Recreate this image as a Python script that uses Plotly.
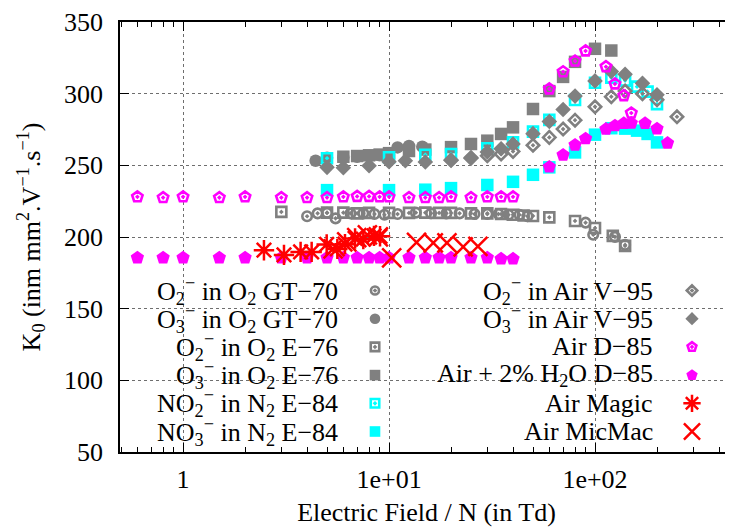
import math
import plotly.graph_objects as go

# ---------------- data ----------------
gt70_o2_x = [4.0, 4.5, 5.0, 5.5, 6.5, 7.5, 8.5, 9.5, 11, 13.5, 16, 19, 22, 26, 30, 34, 38, 43, 47, 90, 98, 125, 140]
gt70_o2_y = [214.5, 216.5, 216.8, 213.0, 216.5, 216.5, 216.0, 215.5, 216.0, 217.0, 216.5, 216.5, 216.5, 216.0, 216.0,
             216.0, 215.5, 215.5, 214.5, 210.0, 201.6, 200.1, 194.5]

gt70_o3_x = [4.4, 5.0, 6.0, 7.0, 8.0, 9.0, 11, 12.5, 14.5]
gt70_o3_y = [253.2, 255.3, 255.5, 256.0, 256.5, 257.0, 262.5, 263.5, 263.0]

e76_o2_x = [3, 5, 6, 7, 8, 10, 12.5, 15, 17.5, 20, 25, 30, 35, 40, 45, 50, 60, 80, 100, 122, 140]
e76_o2_y = [217.5, 217, 217, 216.5, 216.8, 216.8, 216.8, 217, 216.8, 216.8, 216.5, 216.5, 216, 215.5, 215, 214.7,
            213.7, 211.2, 206.3, 200.8, 193.8]

e76_o3_x = [6, 7, 8, 9, 10, 12.5, 15, 20, 25, 30, 35, 40, 50, 60, 70, 80, 100, 120]
e76_o3_y = [256, 256.5, 257, 257.5, 258.5, 260, 261, 262.7, 264.9, 267.2, 271.9, 276.5, 289.3, 301.8, 311.7, 322.2,
            331.3, 330.1]

e84_x = [5, 10, 15, 20, 30, 40, 50, 60, 80, 100, 120, 140, 160, 180, 200]
e84_no2_y = [254.9, 255.6, 257.4, 257.9, 261.9, 266, 273.5, 281.7, 295.6, 307.6, 311.2, 309.1, 304.9, 301.4, 292.7]
e84_no3_y = [232.7, 232.7, 233, 234.1, 236.3, 238.5, 243.4, 248.6, 259, 271.4, 275.9, 275.6, 274.2, 271.9, 266]

v95_o2_x = [20, 25, 30, 35, 40, 50, 60, 70, 80, 100, 120, 140, 170, 200, 250]
v95_o2_y = [253.5, 255, 256.7, 257.9, 259.7, 264, 269.5, 275.3, 281.5, 290.9, 297.9, 301.8, 300, 295.7, 283.9]

v95_o3_x = [5, 6, 8, 10, 12, 15, 20, 25, 30, 35, 40, 50, 60, 70, 80, 100, 120, 140, 170, 200]
v95_o3_y = [248.6, 248.3, 249.7, 252.5, 253.2, 252.3, 253.7, 255.5, 259.3, 261.6, 264.9, 272.1, 280.6, 289, 298.3,
            308.9, 315.5, 313.5, 307.2, 299.2]

d85_air_x = [0.6, 0.8, 1, 1.5, 2, 3, 4, 5, 6, 7, 8, 9, 10, 12.5, 15, 17.5, 20, 25, 30, 35, 40,
             60, 70, 80, 90, 113, 125, 138, 150]
d85_air_y = [228, 227.5, 228, 227.5, 228, 227.5, 227.5, 227.5, 228, 228.3, 228.3, 228, 228, 227.5, 227.5, 227.5,
             228, 227.5, 228, 228, 228, 303.3, 315.3, 322.8, 329.8, 318.8, 306.8, 298.6, 286.5]

d85_h2o_x = [0.6, 0.8, 1, 1.5, 2, 3, 4, 5, 6, 7, 8, 9, 10, 12.5, 15, 17.5, 20, 25, 30, 35, 40,
             60, 70, 80, 90, 113, 125, 138, 150, 175, 200, 225]
d85_h2o_y = [185.5, 185.5, 185.5, 185.5, 185.5, 185.5, 185.5, 185.5, 185.5, 185.5, 185.5, 185.5, 185.5, 185.5,
             185.5, 185.5, 185.5, 185.5, 185.5, 184.8, 184.8, 248.9, 257.2, 264.2, 268.6, 275.3, 277.7, 279.3,
             279.5, 279.3, 275.5, 265.5]

magic_x = [2.47, 3.09, 3.72, 4.21, 4.98, 5.61, 6.11, 6.84, 7.50, 8.45, 9.04]
magic_y = [190.8, 187.5, 189.6, 189.6, 194.8, 191.7, 195, 199, 198.5, 200.8, 200.5]

micmac_x = [5.35, 6.23, 6.97, 7.85, 8.87, 10.3, 13.6, 16.4, 19.1, 22.9, 27.0]
micmac_y = [191.7, 196.6, 199.6, 201.5, 200.1, 185.5, 196.2, 195.9, 195.9, 193.1, 193.5]

x_tickvals = [1, 10, 100]
x_ticktext = ["1", "1e+01", "1e+02"]

GRAY = "#808080"
CYAN = "#00ffff"
MAG = "#ff00ff"
RED = "#ff0000"
FONT = "Liberation Serif"

# (label, x, y, symbol, size, color, linewidth)
series = [
    ("O<sub>2</sub><sup>−</sup> in O<sub>2</sub> GT−70", gt70_o2_x, gt70_o2_y, "circle-open-dot", 9.5, GRAY, 2.6),
    ("O<sub>3</sub><sup>−</sup> in O<sub>2</sub> GT−70", gt70_o3_x, gt70_o3_y, "circle", 12.5, GRAY, 0),
    ("O<sub>2</sub><sup>−</sup> in O<sub>2</sub> E−76", e76_o2_x, e76_o2_y, "square-open-dot", 10, GRAY, 2.6),
    ("O<sub>3</sub><sup>−</sup> in O<sub>2</sub> E−76", e76_o3_x, e76_o3_y, "square", 12.5, GRAY, 0),
    ("NO<sub>2</sub><sup>−</sup> in N<sub>2</sub> E−84", e84_x, e84_no2_y, "square-open-dot", 10, CYAN, 2.6),
    ("NO<sub>3</sub><sup>−</sup> in N<sub>2</sub> E−84", e84_x, e84_no3_y, "square", 12.5, CYAN, 0),
    ("O<sub>2</sub><sup>−</sup> in Air V−95", v95_o2_x, v95_o2_y, "diamond-open-dot", 9.5, GRAY, 2.6),
    ("O<sub>3</sub><sup>−</sup> in Air V−95", v95_o3_x, v95_o3_y, "diamond", 12, GRAY, 0),
    ("Air D−85", d85_air_x, d85_air_y, "pentagon-open-dot", 11, MAG, 2.6),
    ("Air + 2% H<sub>2</sub>O D−85", d85_h2o_x, d85_h2o_y, "pentagon", 14, MAG, 0),
    ("Air Magic", magic_x, magic_y, "asterisk-open", 17, RED, 2.5),
    ("Air MicMac", micmac_x, micmac_y, "x-thin-open", 19, RED, 2.5),
]

fig = go.Figure()

for label, xs, ys, sym, size, col, lw in series:
    fig.add_trace(go.Scatter(
        x=xs, y=ys, mode="markers", name=label, showlegend=False,
        marker=dict(symbol=sym, size=size, color=col, line=dict(width=lw, color=col)),
        xaxis="x", yaxis="y",
    ))

# ---------------- layout geometry ----------------
# page body has an 8px default margin; the figure is sized so the page is filled exactly
OFF = 8
W, H = 733 - OFF, 527 - OFF
ML, MR, MT, MB = 120 - OFF, 0, 22 - OFF, 75
pw, ph = W - ML - MR, H - MT - MB


def px_to_paper_x(px):
    return (px - OFF - ML) / pw


def py_to_paper_y(py):
    return (OFF + MT + ph - py) / ph


# ---------------- custom legend (text right-aligned, marker on the right) ----------------
row0, drow = 290.5, 28.2
cols = [(340, 375), (655, 692)]
for i, (label, xs, ys, sym, size, col, lw) in enumerate(series):
    c, r = divmod(i, 6)
    tx, mx = cols[c]
    py = row0 + r * drow
    fig.add_annotation(
        x=px_to_paper_x(tx), y=py_to_paper_y(py), xref="paper", yref="paper",
        text=label, showarrow=False, xanchor="right", yanchor="middle",
        font=dict(family=FONT, size=26, color="black"),
    )
    fig.add_trace(go.Scatter(
        x=[px_to_paper_x(mx)], y=[py_to_paper_y(py)], mode="markers", showlegend=False,
        marker=dict(symbol=sym, size=size * 0.85, color=col, line=dict(width=lw, color=col)),
        xaxis="x2", yaxis="y2", hoverinfo="skip",
    ))

fig.add_shape(type="rect", xref="paper", yref="paper",
              x0=px_to_paper_x(122), x1=px_to_paper_x(720),
              y0=py_to_paper_y(450), y1=py_to_paper_y(278),
              fillcolor="white", line=dict(width=0), layer="between")

minor_vals = [m * 10 ** e for e in range(-1, 3) for m in range(2, 10)]

axis_font = dict(family=FONT, size=26, color="black")
grid_col = "#6e6e6e"
fig.update_layout(
    width=W, height=H,
    margin=dict(l=ML, r=MR, t=MT, b=MB, pad=0),
    paper_bgcolor="white", plot_bgcolor="white",
    font=dict(family=FONT, color="black"),
    xaxis=dict(
        type="log", range=[math.log10(0.494), 2.670], automargin=False,
        tickmode="array", tickvals=x_tickvals, ticktext=x_ticktext,
        ticks="inside", ticklen=9, tickwidth=1, tickcolor="black",
        showline=True, linecolor="black", linewidth=1.5, mirror="ticks",
        showgrid=True, gridcolor=grid_col, griddash="dot", gridwidth=1,
        minor=dict(ticks="inside", ticklen=5, tickwidth=1, tickcolor="black",
                   tickmode="array", tickvals=minor_vals, showgrid=False),
        zeroline=False, tickfont=axis_font, ticklabelstandoff=3,
        title=dict(text="Electric Field / N (in Td)", font=axis_font, standoff=14),
    ),
    yaxis=dict(
        range=[50, 350], tickmode="linear", tick0=50, dtick=50, automargin=False,
        ticks="inside", ticklen=9, tickwidth=1, tickcolor="black",
        showline=True, linecolor="black", linewidth=1.5, mirror=False,
        showgrid=True, gridcolor=grid_col, griddash="dot", gridwidth=1,
        zeroline=False, tickfont=axis_font, ticklabelstandoff=10,
        title=dict(text="K<sub>0</sub> (inm mm<sup>2</sup>.V<sup>−1</sup>.s<sup>−1</sup>)",
                   font=axis_font, standoff=16),
    ),
    xaxis2=dict(range=[0, 1], visible=False, overlaying="x", anchor="y2", fixedrange=True),
    yaxis2=dict(range=[0, 1], visible=False, overlaying="y", anchor="x2", fixedrange=True),
)

fig.write_html("out.html")
